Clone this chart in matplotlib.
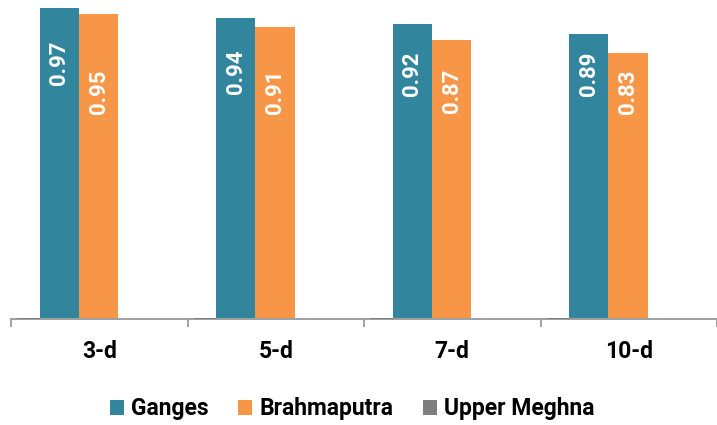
import numpy as np
import matplotlib
matplotlib.use("Agg")
import matplotlib.pyplot as plt
from matplotlib.patches import Patch

# lead times and skill scores per basin
lead_times = ["3-d", "5-d", "7-d", "10-d"]
ganges = [0.97, 0.94, 0.92, 0.89]
brahmaputra = [0.95, 0.91, 0.87, 0.83]
upper_meghna = [0.004, 0.004, 0.004, 0.004]

series_names = ["Ganges", "Brahmaputra", "Upper Meghna"]
colors = ["#31859C", "#F79646", "#7F7F7F"]

plt.rcParams["font.family"] = ["Roboto", "DejaVu Sans"]
plt.rcParams["font.weight"] = "bold"

W, H = 717, 425
fig = plt.figure(figsize=(W / 100, H / 100), dpi=100)
ax_left, ax_bottom = 11, 425 - 319
ax_w, ax_h = 706, 320.6
ax = fig.add_axes([ax_left / W, ax_bottom / H, ax_w / W, ax_h / H])

x = np.arange(len(lead_times))
bw = 0.222

ax.bar(x - 0.337, ganges, width=bw, align="edge", color=colors[0], zorder=2)
ax.bar(x - 0.115, brahmaputra, width=bw, align="edge", color=colors[1], zorder=2)
ax.bar(x - 0.465, upper_meghna, width=0.128, align="edge", color=colors[2], zorder=3)

# value labels inside the bars, rotated
for xi, v in zip(x, ganges):
    yc = max(v - 0.17, 0.765)
    ax.text(xi - 0.337 + bw / 2, yc, f"{v:.2f}", rotation=90, ha="center", va="center",
            color="white", fontsize=16, fontweight="bold", zorder=4)
for xi, v in zip(x, brahmaputra):
    yc = 0.71
    ax.text(xi - 0.115 + bw / 2, yc, f"{v:.2f}", rotation=90, ha="center", va="center",
            color="white", fontsize=16, fontweight="bold", zorder=4)

ax.set_xlim(-0.5, -0.5 + ax_w / 177.5)
ax.set_ylim(0, 1)

for side in ["top", "right", "left"]:
    ax.spines[side].set_visible(False)
ax.spines["bottom"].set_color("#A0A0A0")
ax.spines["bottom"].set_linewidth(1.4)
ax.set_yticks([])

ax.set_xticks(x)
ax.set_xticklabels(lead_times, fontsize=16.5, fontweight="bold")
ax.tick_params(axis="x", which="major", length=0, pad=15)
ax.set_xticks(np.arange(-0.5, len(lead_times) + 0.5, 1), minor=True)
ax.tick_params(axis="x", which="minor", length=6, width=1.4, color="#A0A0A0", direction="out")

handles = [Patch(facecolor=c, edgecolor="none") for c in colors]
fig.legend(handles, series_names, loc="center", bbox_to_anchor=(352 / W, 1 - 409 / H),
           ncol=3, frameon=False, fontsize=16.5, handlelength=0.62, handleheight=0.62,
           handletextpad=0.3, columnspacing=1.3, borderaxespad=0)

fig.savefig("out.png", dpi=100)
